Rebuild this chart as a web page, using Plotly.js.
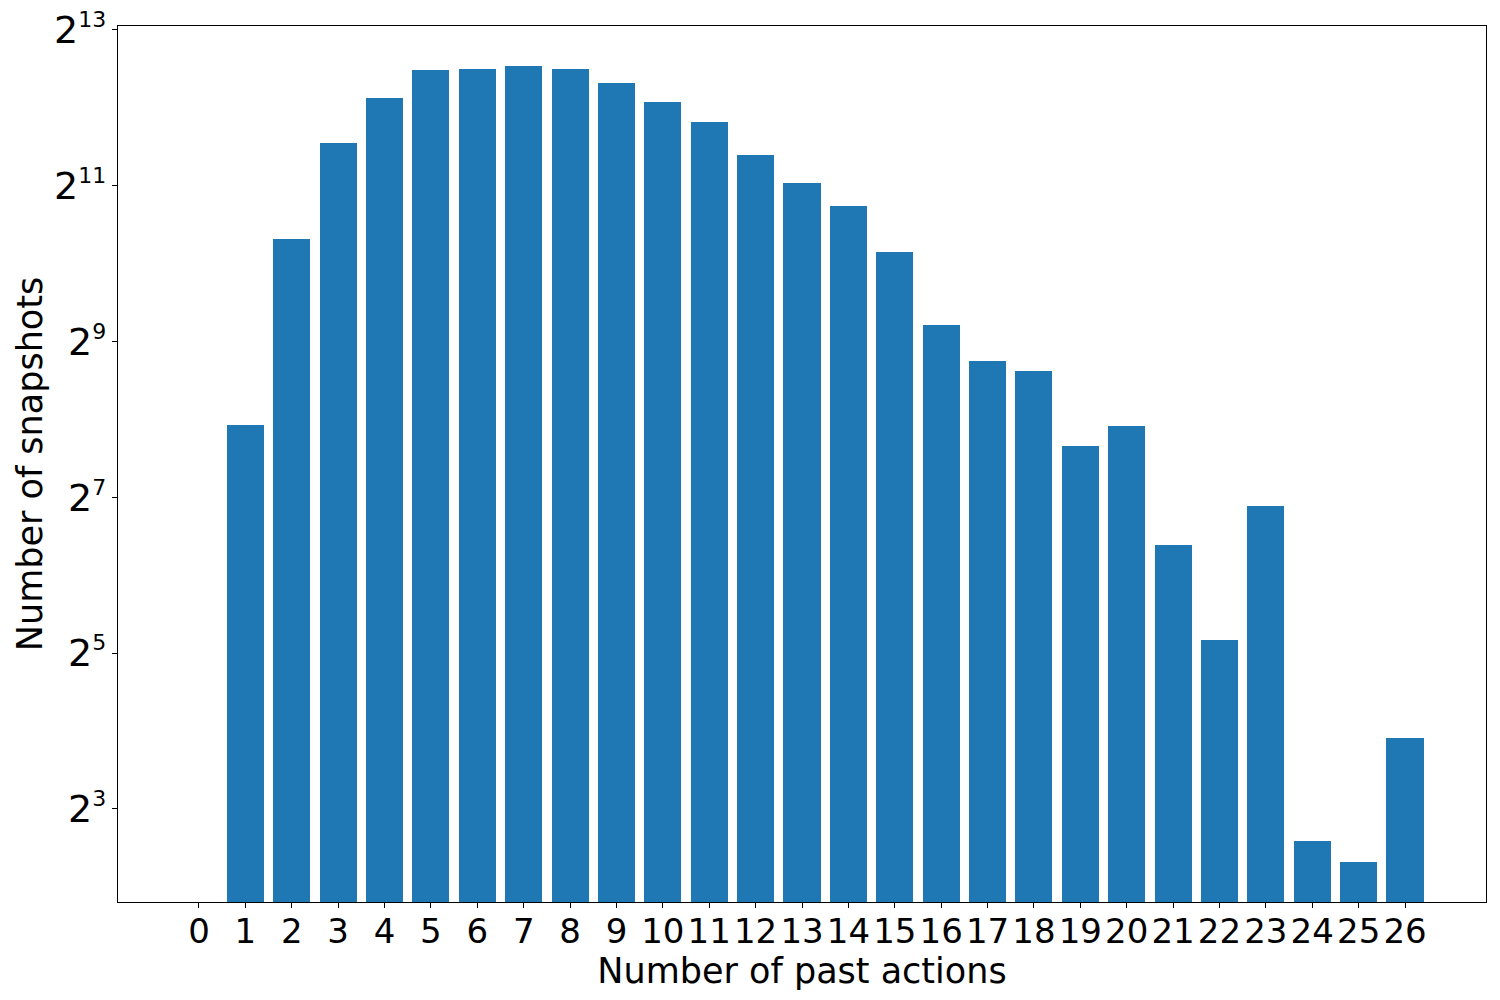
<!DOCTYPE html>
<html>
<head>
<meta charset="utf-8">
<script src="https://cdn.plot.ly/plotly-3.0.1.min.js"></script>
<style>html,body{margin:0;padding:0;background:#fff;}#chart{width:1500px;height:1000px;}</style>
</head>
<body>
<div id="chart"></div>
<script>
const categories = [0,1,2,3,4,5,6,7,8,9,10,11,12,13,14,15,16,17,18,19,20,21,22,23,24,25,26];
const snapshots = [0,244,1276,2997,4474,5740,5788,5948,5788,5113,4318,3613,2693,2100,1711,1136,594,431,394,202,242,84,36,118,6,5,15];
const yTickVals = [8,32,128,512,2048,8192];
const yTickExps = ['3','5','7','9','11','13'];
const yTickText = yTickExps.map(e => '2<sup><span style="font-size:22px">' + e + '</span></sup>');
const xTickText = categories.map(String);

const font = 'DejaVu Sans, sans-serif';
const trace = {
  type: 'bar',
  x: categories,
  y: snapshots,
  width: 0.8,
  marker: {color: '#1f77b4', line: {width: 0}},
  hoverinfo: 'x+y'
};
const layout = {
  width: 1500, height: 1000,
  margin: {l: 118, r: 14, t: 26, b: 98, pad: 0},
  paper_bgcolor: '#fff', plot_bgcolor: '#fff',
  showlegend: false,
  font: {family: font, color: '#000'},
  bargap: 0,
  xaxis: {
    type: 'linear',
    range: [-1.746, 27.746],
    tickvals: categories,
    ticktext: xTickText,
    tickfont: {family: font, size: 34, color: '#000'},
    ticks: 'outside', ticklen: 5, tickwidth: 1, tickcolor: '#000',
    ticklabelstandoff: -6,
    showline: true, linecolor: '#000', linewidth: 1.2, mirror: true,
    showgrid: false, zeroline: false,
    title: {text: 'Number of past actions', font: {family: font, size: 35, color: '#000'}, standoff: 0}
  },
  yaxis: {
    type: 'log',
    range: [0.5437, 3.9277],
    tickvals: yTickVals,
    ticktext: yTickText,
    tickfont: {family: font, size: 38, color: '#000'},
    ticks: 'outside', ticklen: 5, tickwidth: 1, tickcolor: '#000',
    ticklabelstandoff: -2,
    showline: true, linecolor: '#000', linewidth: 1.2, mirror: true,
    showgrid: false, zeroline: false,
    automargin: 'left',
    title: {text: 'Number of snapshots', font: {family: font, size: 35, color: '#000'}, standoff: 0}
  }
};
Plotly.newPlot('chart', [trace], layout, {displayModeBar: false, staticPlot: true});
</script>
</body>
</html>
